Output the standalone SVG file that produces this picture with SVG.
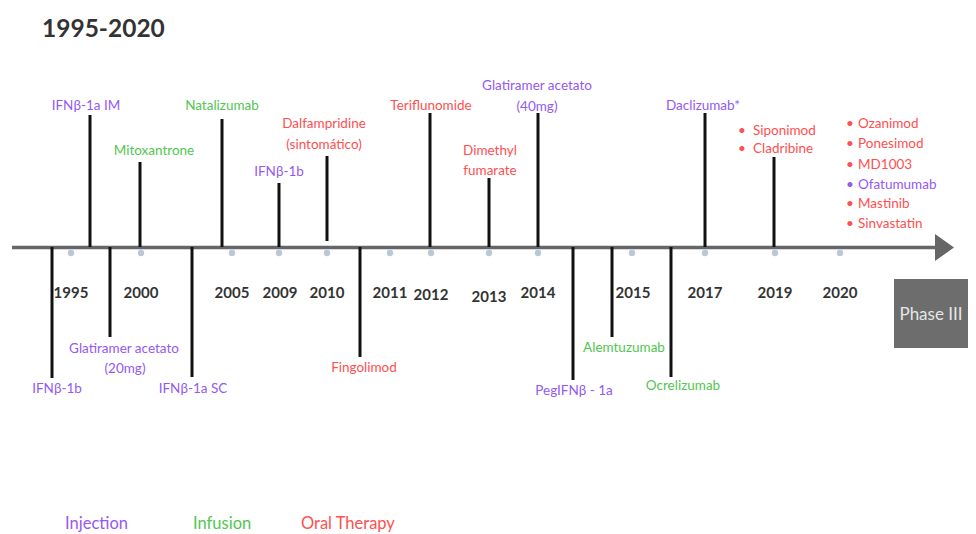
<svg xmlns="http://www.w3.org/2000/svg" width="976" height="534" viewBox="0 0 976 534">
<style>
text{font-family:Lato,"Open Sans","Liberation Sans",sans-serif}
.t{font-size:24.5px;font-weight:bold;fill:#333}
.yr{font-size:15px;font-weight:bold;fill:#333;text-anchor:middle}
.lb{font-size:13.5px;text-anchor:middle}
.li{font-size:13.5px}
.inj{fill:#9459f2}
.inf{fill:#52c64f}
.ora{fill:#ff4f4f}
.stem{stroke:#111;stroke-width:3}
.dot{fill:#b9c8d6}
.lg{font-size:16.5px}
</style>
<rect width="976" height="534" fill="#fff"/>
<text class="t" x="42" y="37">1995-2020</text>

<g id="axis">
<line x1="12" y1="247.5" x2="937" y2="247.5" stroke="#666" stroke-width="3.5"/>
<polygon points="935,234 954,247.5 935,261" fill="#666"/>
<circle class="dot" cx="71" cy="253" r="3.2"/>
<circle class="dot" cx="141" cy="253" r="3.2"/>
<circle class="dot" cx="232" cy="253" r="3.2"/>
<circle class="dot" cx="279" cy="253" r="3.2"/>
<circle class="dot" cx="327" cy="253" r="3.2"/>
<circle class="dot" cx="390" cy="253" r="3.2"/>
<circle class="dot" cx="431" cy="253" r="3.2"/>
<circle class="dot" cx="489" cy="253" r="3.2"/>
<circle class="dot" cx="538" cy="253" r="3.2"/>
<circle class="dot" cx="632" cy="253" r="3.2"/>
<circle class="dot" cx="705" cy="253" r="3.2"/>
<circle class="dot" cx="775" cy="253" r="3.2"/>
<circle class="dot" cx="840" cy="253" r="3.2"/>
<text class="yr" x="71" y="298">1995</text>
<text class="yr" x="141" y="298">2000</text>
<text class="yr" x="232" y="298">2005</text>
<text class="yr" x="280" y="298">2009</text>
<text class="yr" x="327" y="298">2010</text>
<text class="yr" x="390" y="298">2011</text>
<text class="yr" x="431" y="300">2012</text>
<text class="yr" x="489" y="302">2013</text>
<text class="yr" x="538" y="298">2014</text>
<text class="yr" x="633" y="298">2015</text>
<text class="yr" x="705" y="298">2017</text>
<text class="yr" x="775" y="298">2019</text>
<text class="yr" x="840" y="298">2020</text>
</g>

<g id="connectors">
<line class="stem" x1="90" y1="115" x2="90" y2="247"/>
<line class="stem" x1="140" y1="162" x2="140" y2="247"/>
<line class="stem" x1="222" y1="119" x2="222" y2="247"/>
<line class="stem" x1="279" y1="183" x2="279" y2="247"/>
<line class="stem" x1="327" y1="156" x2="327" y2="241"/>
<line class="stem" x1="430" y1="113" x2="430" y2="247"/>
<line class="stem" x1="489" y1="178" x2="489" y2="247"/>
<line class="stem" x1="538" y1="113" x2="538" y2="247"/>
<line class="stem" x1="705" y1="113" x2="705" y2="247"/>
<line class="stem" x1="774" y1="157" x2="774" y2="247"/>
<line class="stem" x1="52" y1="247" x2="52" y2="378"/>
<line class="stem" x1="110" y1="247" x2="110" y2="337"/>
<line class="stem" x1="192" y1="247" x2="192" y2="377"/>
<line class="stem" x1="360" y1="247" x2="360" y2="357"/>
<line class="stem" x1="573" y1="247" x2="573" y2="380"/>
<line class="stem" x1="612" y1="247" x2="612" y2="337"/>
<line class="stem" x1="671" y1="247" x2="671" y2="377"/>
</g>

<g id="ifnb1a-im"><text class="lb inj" x="86" y="110">IFNβ-1a IM</text></g>
<g id="mitoxantrone"><text class="lb inf" x="154" y="155">Mitoxantrone</text></g>
<g id="natalizumab"><text class="lb inf" x="222" y="110">Natalizumab</text></g>
<g id="ifnb1b-2009"><text class="lb inj" x="279" y="176">IFNβ-1b</text></g>
<g id="dalfampridine"><text class="lb ora" x="324" y="128">Dalfampridine</text><text class="lb ora" x="324" y="149">(sintomático)</text></g>
<g id="teriflunomide"><text class="lb ora" x="431" y="110">Teriflunomide</text></g>
<g id="dimethyl-fumarate"><text class="lb ora" x="490" y="155">Dimethyl</text><text class="lb ora" x="490" y="175">fumarate</text></g>
<g id="glatiramer-40"><text class="lb inj" x="537" y="90">Glatiramer acetato</text><text class="lb inj" x="537" y="111">(40mg)</text></g>
<g id="daclizumab"><text class="lb inj" x="703" y="110">Daclizumab*</text></g>
<g id="siponimod-cladribine">
<text class="li ora" x="738" y="135">•</text><text class="li ora" x="753" y="135">Siponimod</text>
<text class="li ora" x="738" y="153">•</text><text class="li ora" x="753" y="153">Cladribine</text>
</g>
<g id="phase3-list">
<text class="li ora" x="846" y="128">•</text><text class="li ora" x="858" y="128">Ozanimod</text>
<text class="li ora" x="846" y="148">•</text><text class="li ora" x="858" y="148">Ponesimod</text>
<text class="li ora" x="846" y="169">•</text><text class="li ora" x="858" y="169">MD1003</text>
<text class="li inj" x="846" y="189">•</text><text class="li inj" x="858" y="189">Ofatumumab</text>
<text class="li ora" x="846" y="208">•</text><text class="li ora" x="858" y="208">Mastinib</text>
<text class="li ora" x="846" y="228">•</text><text class="li ora" x="858" y="228">Sinvastatin</text>
</g>

<g id="ifnb1b-1995"><text class="lb inj" x="57" y="393">IFNβ-1b</text></g>
<g id="glatiramer-20"><text class="lb inj" x="124" y="353">Glatiramer acetato</text><text class="lb inj" x="125" y="373">(20mg)</text></g>
<g id="ifnb1a-sc"><text class="lb inj" x="193" y="393">IFNβ-1a SC</text></g>
<g id="fingolimod"><text class="lb ora" x="364" y="372">Fingolimod</text></g>
<g id="pegifnb"><text class="lb inj" x="574" y="395">PegIFNβ - 1a</text></g>
<g id="alemtuzumab"><text class="lb inf" x="624" y="352">Alemtuzumab</text></g>
<g id="ocrelizumab"><text class="lb inf" x="683" y="390">Ocrelizumab</text></g>

<g id="phase3">
<rect x="894" y="279" width="74" height="69" fill="#6d6d6d"/>
<text x="931" y="320" font-size="17" fill="#e6e6e6" text-anchor="middle">Phase III</text>
</g>

<g id="legend">
<text class="lg inj" x="65" y="529">Injection</text>
<text class="lg inf" x="193" y="529">Infusion</text>
<text class="lg ora" x="301" y="529">Oral Therapy</text>
</g>
</svg>
